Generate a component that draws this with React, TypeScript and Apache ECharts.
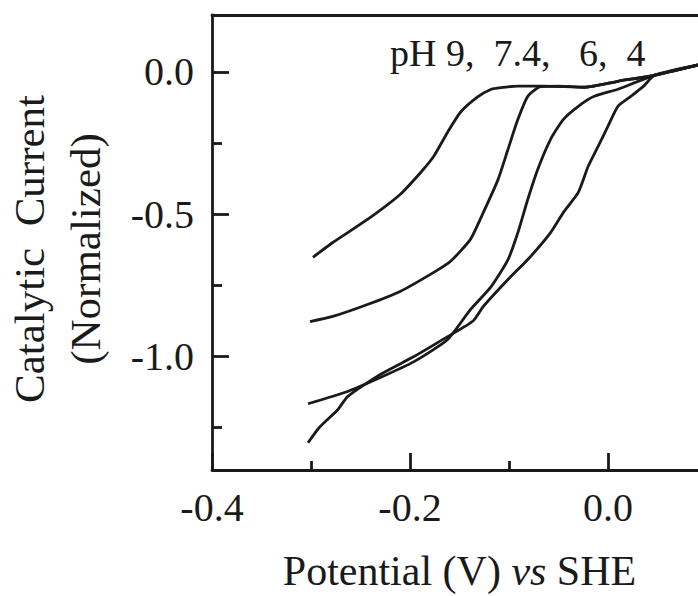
import React, { useEffect, useRef } from "react";
import * as echarts from "echarts";

const FONT = '"Liberation Serif", "Times New Roman", serif';
const INK = "#1a1a1a";

// Tick positions
const xMajorTicks = [-0.4, -0.2, 0.0];
const xMinorTicks = [-0.3, -0.1];
const yMajorTicks = [-1.0, -0.5, 0.0];
const yMinorTicks = [-1.25, -0.75, -0.25];

// Potential (V vs SHE) and normalized catalytic current, one list per pH
const pH9Potential = [-0.298, -0.278, -0.243, -0.210, -0.189, -0.176, -0.162, -0.149, -0.132, -0.118, -0.108, -0.091, -0.065, -0.024, 0.010, 0.044, 0.092];
const pH9Current = [-0.652, -0.600, -0.519, -0.431, -0.353, -0.297, -0.212, -0.142, -0.089, -0.061, -0.055, -0.050, -0.050, -0.054, -0.033, -0.014, 0.025];

const pH74Potential = [-0.301, -0.278, -0.243, -0.210, -0.176, -0.159, -0.139, -0.126, -0.111, -0.101, -0.091, -0.081, -0.068, -0.050, -0.024, 0.010, 0.044, 0.092];
const pH74Current = [-0.878, -0.860, -0.818, -0.772, -0.705, -0.666, -0.589, -0.495, -0.378, -0.272, -0.167, -0.086, -0.052, -0.050, -0.054, -0.033, -0.014, 0.025];

const pH6Potential = [-0.303, -0.263, -0.230, -0.196, -0.162, -0.139, -0.118, -0.101, -0.091, -0.081, -0.071, -0.058, -0.045, -0.030, -0.014, 0.010, 0.044, 0.092];
const pH6Current = [-1.167, -1.124, -1.075, -1.019, -0.941, -0.836, -0.755, -0.660, -0.565, -0.448, -0.343, -0.237, -0.167, -0.121, -0.086, -0.061, -0.016, 0.025];

const pH4Potential = [-0.303, -0.291, -0.273, -0.263, -0.230, -0.196, -0.162, -0.136, -0.126, -0.101, -0.081, -0.058, -0.045, -0.030, -0.020, -0.010, 0.000, 0.010, 0.023, 0.036, 0.047, 0.092];
const pH4Current = [-1.304, -1.248, -1.188, -1.142, -1.064, -1.001, -0.931, -0.875, -0.825, -0.730, -0.660, -0.565, -0.494, -0.424, -0.332, -0.262, -0.191, -0.121, -0.086, -0.050, -0.012, 0.025];

const curves = [
  { name: "pH 9", x: pH9Potential, y: pH9Current },
  { name: "pH 7.4", x: pH74Potential, y: pH74Current },
  { name: "pH 6", x: pH6Potential, y: pH6Current },
  { name: "pH 4", x: pH4Potential, y: pH4Current },
];

const X_MIN = -0.4;
const X_MAX = 0.1;
const Y_MIN = -1.4;
const Y_MAX = 0.2;

export default function App() {
  const ref = useRef<HTMLDivElement>(null);

  useEffect(() => {
    if (!ref.current) return;
    const chart = echarts.init(ref.current, undefined, { renderer: "svg" });
    const lineStyle = { color: INK, width: 2.8 };

    const option: any = {
      animation: false,
      backgroundColor: "#ffffff",
      textStyle: { fontFamily: FONT, color: INK },
      grid: { left: 212, top: 15, width: 495, height: 455, containLabel: false, outerBoundsMode: "none" },
      xAxis: [
        {
          type: "value",
          position: "bottom",
          min: X_MIN,
          max: X_MAX,
          axisLine: { show: true, onZero: false, lineStyle },
          axisTick: { show: true, inside: true, length: 17, lineStyle, customValues: xMajorTicks },
          axisLabel: {
            show: true,
            customValues: xMajorTicks,
            formatter: (v: number) => v.toFixed(1),
            fontSize: 40,
            fontFamily: FONT,
            color: INK,
            margin: 17,
          },
          splitLine: { show: false },
          name: "{n|Potential (V) }{i|vs}{n| SHE}",
          nameLocation: "middle",
          nameGap: 80,
          nameTextStyle: {
            fontFamily: FONT,
            fontSize: 42,
            color: INK,
            rich: {
              n: { fontFamily: FONT, fontSize: 42, color: INK },
              i: { fontFamily: FONT, fontSize: 42, color: INK, fontStyle: "italic" },
            },
          },
        },
        {
          type: "value",
          position: "bottom",
          min: X_MIN,
          max: X_MAX,
          axisLine: { show: false, onZero: false },
          axisTick: { show: true, inside: true, length: 9, lineStyle, customValues: xMinorTicks },
          axisLabel: { show: false },
          splitLine: { show: false },
        },
        {
          type: "value",
          position: "top",
          min: X_MIN,
          max: X_MAX,
          axisLine: { show: true, onZero: false, lineStyle },
          axisTick: { show: false },
          axisLabel: { show: false },
          splitLine: { show: false },
        },
      ],
      yAxis: [
        {
          type: "value",
          position: "left",
          min: Y_MIN,
          max: Y_MAX,
          axisLine: { show: true, onZero: false, lineStyle },
          axisTick: { show: true, inside: true, length: 17, lineStyle, customValues: yMajorTicks },
          axisLabel: {
            show: true,
            customValues: yMajorTicks,
            formatter: (v: number) => v.toFixed(1),
            fontSize: 40,
            fontFamily: FONT,
            color: INK,
            margin: 18,
          },
          splitLine: { show: false },
        },
        {
          type: "value",
          position: "left",
          min: Y_MIN,
          max: Y_MAX,
          axisLine: { show: false, onZero: false },
          axisTick: { show: true, inside: true, length: 10, lineStyle, customValues: yMinorTicks },
          axisLabel: { show: false },
          splitLine: { show: false },
        },
      ],
      graphic: [
        {
          type: "text",
          x: 57,
          y: 249,
          rotation: Math.PI / 2,
          style: {
            text: "Catalytic  Current\n(Normalized)",
            fontFamily: FONT,
            fontSize: 43,
            lineHeight: 56,
            fill: INK,
            textAlign: "center",
            textVerticalAlign: "middle",
          },
        },
        {
          type: "text",
          x: 390,
          y: 53,
          style: {
            text: "pH 9,  7.4,   6,  4",
            fontFamily: FONT,
            fontSize: 38,
            fill: INK,
            textAlign: "left",
            textVerticalAlign: "middle",
          },
        },
      ],
      series: curves.map((c) => ({
        type: "line",
        name: c.name,
        xAxisIndex: 0,
        yAxisIndex: 0,
        showSymbol: false,
        symbol: "none",
        smooth: 0.2,
        lineStyle: { color: INK, width: 2.8 },
        data: c.x.map((xv, i) => [xv, c.y[i]]),
      })),
    };

    chart.setOption(option);
    return () => chart.dispose();
  }, []);

  return (
    <div style={{ position: "fixed", left: 0, top: 0, width: 698, height: 596, overflow: "hidden", background: "#fff" }}>
      <div ref={ref} style={{ width: 698, height: 596 }} />
    </div>
  );
}
